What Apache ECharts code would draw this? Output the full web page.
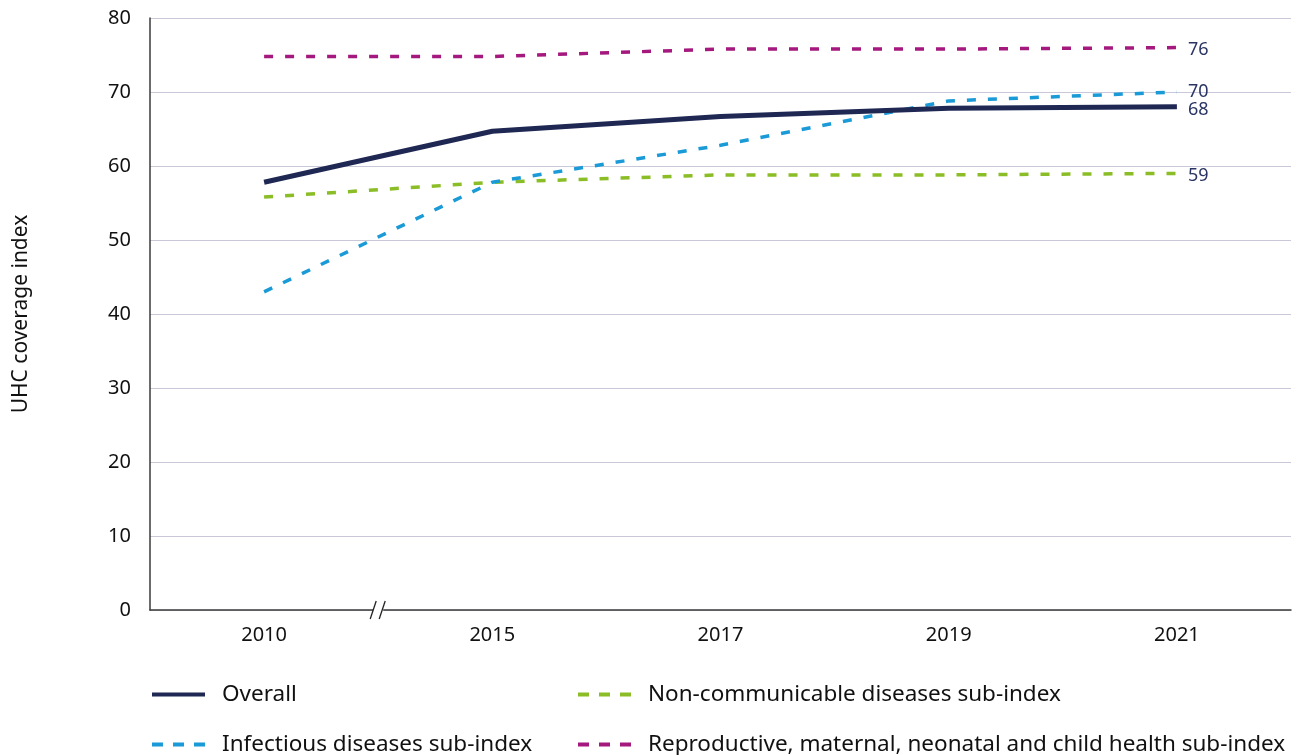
<!DOCTYPE html>
<html>
<head>
<meta charset="utf-8">
<script src="https://cdn.jsdelivr.net/npm/echarts@6/dist/echarts.min.js"></script>
<style>
  html, body { margin: 0; padding: 0; background: #fff; }
  #chart { width: 1304px; height: 755px; }
</style>
</head>
<body>
<div id="chart"></div>
<script>
// UHC service coverage index by year
const years = ['2010', '2015', '2017', '2019', '2021'];
const overall = [57.8, 64.7, 66.7, 67.8, 68];
const infectious = [43, 57.8, 62.8, 68.8, 70];
const noncommunicable = [55.8, 57.8, 58.8, 58.8, 59];
const reproductive = [74.8, 74.8, 75.8, 75.8, 76];
const yTicks = [0, 10, 20, 30, 40, 50, 60, 70, 80];

const FONT = '"Noto Sans", "Open Sans", sans-serif';
const NAVY = '#1f2753';
const BLUE = '#1a9ad6';
const GREEN = '#8bbd26';
const PURPLE = '#a5197f';
const LABEL = '#2a3563';

const SOLID_ICON = 'path://M0,0h53v4h-53z';
const DASH_ICON = 'path://M0,0h11v4h-11zM21,0h11v4h-11zM42,0h11v4h-11z';

function lineSeries(name, data, color, width, dashed, labelOffset) {
  return {
    name: name,
    type: 'line',
    data: data,
    symbol: 'none',
    smooth: false,
    lineStyle: {
      color: color,
      width: width,
      type: dashed ? [9, 12] : 'solid',
      cap: 'butt'
    },
    itemStyle: { color: color },
    endLabel: {
      show: true,
      formatter: p => String(Math.round(p.value)),
      color: LABEL,
      fontFamily: FONT,
      fontSize: 18,
      distance: 11,
      offset: labelOffset || [0, 0]
    },
    emphasis: { disabled: true }
  };
}

const chart = echarts.init(document.getElementById('chart'), null, { renderer: 'canvas' });

const legendText = { fontFamily: FONT, fontSize: 22.5, color: '#111', padding: [0, 0, 0, 12] };

function legendItem(name, icon, left, top) {
  return {
    data: [{ name: name, icon: icon }],
    left: left,
    top: top,
    padding: 0,
    itemWidth: 53,
    itemHeight: 4,
    itemGap: 0,
    textStyle: legendText,
    selectedMode: false
  };
}

chart.setOption({
  animation: false,
  backgroundColor: '#fff',
  grid: { left: 150, right: 13, top: 18, bottom: 145, containLabel: false },
  xAxis: {
    type: 'category',
    data: years,
    boundaryGap: true,
    axisLine: { show: true, lineStyle: { color: '#3a3a3a', width: 1.5 } },
    axisTick: { show: false },
    axisLabel: { color: '#111', fontFamily: FONT, fontSize: 20, margin: 15 },
    splitLine: { show: false }
  },
  yAxis: {
    type: 'value',
    min: yTicks[0],
    max: yTicks[yTicks.length - 1],
    interval: 10,
    name: 'UHC coverage index',
    nameLocation: 'middle',
    nameGap: 118,
    nameRotate: 90,
    nameTextStyle: { color: '#111', fontFamily: FONT, fontSize: 21 },
    axisLine: { show: true, lineStyle: { color: '#3a3a3a', width: 1.5 } },
    axisTick: { show: false },
    axisLabel: { color: '#111', fontFamily: FONT, fontSize: 20, margin: 19 },
    splitLine: { show: true, lineStyle: { color: '#c9c8d9', width: 1.2 } }
  },
  legend: [
    legendItem('Overall', SOLID_ICON, 152, 683),
    legendItem('Infectious diseases sub-index', DASH_ICON, 152, 733),
    legendItem('Non-communicable diseases sub-index', DASH_ICON, 578, 683),
    legendItem('Reproductive, maternal, neonatal and child health sub-index', DASH_ICON, 578, 733)
  ],
  series: [
    lineSeries('Reproductive, maternal, neonatal and child health sub-index', reproductive, PURPLE, 3.5, true, [0, 2]),
    lineSeries('Non-communicable diseases sub-index', noncommunicable, GREEN, 3.5, true, [0, 2]),
    lineSeries('Infectious diseases sub-index', infectious, BLUE, 3.5, true, [0, 0]),
    lineSeries('Overall', overall, NAVY, 5, false, [0, 3])
  ]
});

// Axis break mark between the first two years on the x axis
function drawBreak() {
  const a = chart.convertToPixel({ xAxisIndex: 0 }, years[0]);
  const b = chart.convertToPixel({ xAxisIndex: 0 }, years[1]);
  const y0 = chart.convertToPixel({ yAxisIndex: 0 }, yTicks[0]);
  const cx = (a + b) / 2;
  chart.setOption({
    graphic: [
      { type: 'rect', shape: { x: cx - 5, y: y0 - 3, width: 10, height: 6 }, style: { fill: '#fff' }, z: 100 },
      { type: 'line', shape: { x1: cx - 8, y1: y0 + 9, x2: cx - 2, y2: y0 - 9 }, style: { stroke: '#222', lineWidth: 1.3 }, z: 101 },
      { type: 'line', shape: { x1: cx + 1, y1: y0 + 9, x2: cx + 7, y2: y0 - 9 }, style: { stroke: '#222', lineWidth: 1.3 }, z: 101 }
    ]
  });
}
drawBreak();
</script>
</body>
</html>
